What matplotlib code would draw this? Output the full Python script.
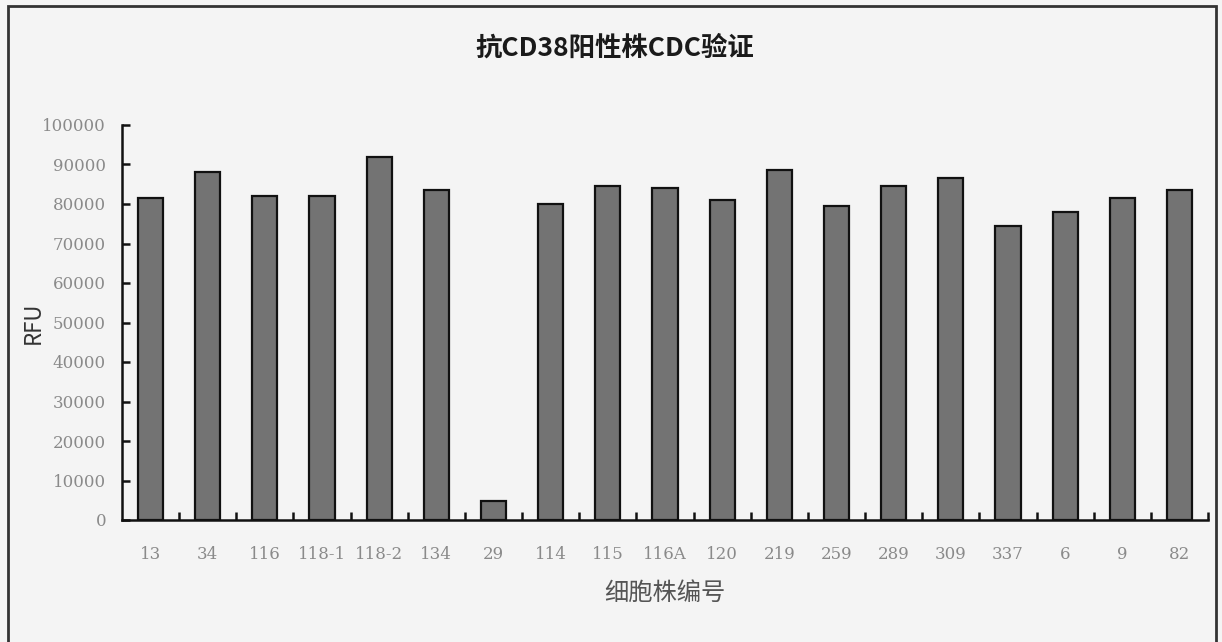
import matplotlib.pyplot as plt
from matplotlib.patches import Rectangle

plt.rcParams['font.family'] = ['Noto Sans CJK SC', 'DejaVu Sans']

# Cell line IDs and measured RFU
cell_lines = ['13', '34', '116', '118-1', '118-2', '134', '29', '114', '115', '116A',
              '120', '219', '259', '289', '309', '337', '6', '9', '82']
rfu = [81500, 88000, 82000, 82000, 92000, 83500, 4900, 80000, 84500, 84000,
       81000, 88500, 79500, 84500, 86500, 74500, 78000, 81500, 83500]
y_ticks = list(range(0, 100001, 10000))

bg = '#f4f4f4'
tick_font = dict(family='DejaVu Serif', fontsize=12, color='#8a8a8a')

fig = plt.figure(figsize=(12.22, 6.42), dpi=100, facecolor=bg)
ax = fig.add_axes([122 / 1222, 1 - 520 / 642, (1208 - 122) / 1222, (520 - 125) / 642])
ax.set_facecolor(bg)

x = list(range(len(cell_lines)))
ax.bar(x, rfu, width=0.44, color='#737373', edgecolor='#111111', linewidth=1.6, zorder=3)

ax.set_xlim(-0.5, len(cell_lines) - 0.5)
ax.set_ylim(0, 100000)
ax.set_yticks(y_ticks)
ax.set_yticklabels([str(v) for v in y_ticks], **tick_font)

# category labels centred on bars, tick marks between categories
ax.set_xticks(x)
ax.set_xticklabels(cell_lines, **tick_font)
ax.tick_params(axis='x', length=0, pad=19)
ax.set_xticks([i + 0.5 for i in x], minor=True)
ax.tick_params(axis='x', which='minor', direction='in', length=6, width=1.8, color='#111111')
ax.tick_params(axis='y', direction='in', length=6, width=1.8, color='#111111', pad=11.5)

for side in ['top', 'right']:
    ax.spines[side].set_visible(False)
for side in ['left', 'bottom']:
    ax.spines[side].set_linewidth(1.8)
    ax.spines[side].set_color('#111111')

ax.set_ylabel('RFU', fontsize=16, color='#333333', labelpad=-2)
ax.set_xlabel('细胞株编号', fontsize=17.5, color='#555555', labelpad=12)
fig.text(615 / 1222, 1 - 48 / 642, '抗CD38阳性株CDC验证', ha='center', va='center',
         fontsize=19, fontweight='bold', color='#1a1a1a')

# outer frame
fig.patches.append(Rectangle((8 / 1222, -0.05), (1216 - 8) / 1222, 1.05 - 6 / 642,
                             transform=fig.transFigure, fill=False, edgecolor='#333333',
                             linewidth=2))

fig.savefig('out.png', dpi=100, facecolor=bg)
